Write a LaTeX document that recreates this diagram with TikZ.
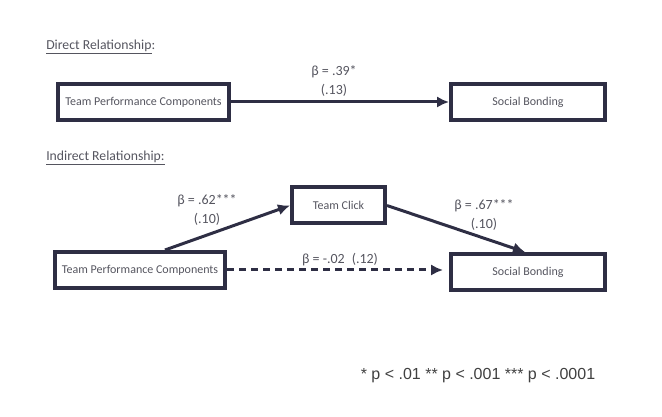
\documentclass[tikz,border=0pt]{standalone}
\usepackage{fontspec}
\setmainfont{Carlito}
\newfontfamily\notefont{Liberation Sans}
\usetikzlibrary{arrows.meta}

\definecolor{boxline}{HTML}{2E2E44}
\definecolor{labeltext}{HTML}{55555F}

\begin{document}
\begin{tikzpicture}%
                    [x=0.75pt,
                    y=-0.75pt,
                    box/.style={draw=boxline, line width=3pt, minimum height=27pt, inner sep=0pt, text=labeltext, font=\fontsize{9}{11}\selectfont},
                    link/.style={color=boxline, line width=2.25pt, -{Latex[length=9pt,width=8.5pt]}},
                    coef/.style={text=labeltext, align=center, inner sep=0pt, font=\fontsize{10.5}{14}\selectfont},
                    heading/.style={anchor=west, inner sep=0pt, text=labeltext, font=\fontsize{10.3}{12}\selectfont},
                    note/.style={inner sep=0pt, text=black!75, font=\notefont\fontsize{12}{14}\selectfont}]

                \useasboundingbox (0,0) rectangle (662,417);
                %% Direct relationship
                \node[heading] (direct) at (46,47) {\underline{Direct Relationship}:};
                \node[box, minimum width=128.25pt] (tpcA) at (143.5,102) {Team Performance Components};
                \node[box, minimum width=115.5pt] (sbA) at (528,102) {Social Bonding};
                \draw[link] (tpcA) -- (sbA);
                \node[coef] (betaA) at (334,81) {β = .39*\\(.13)};
                %%
                %% Indirect relationship
                %%
                \node[heading] (indirect) at (46,158) {\underline{Indirect Relationship:}};
                \node[box, minimum width=69.75pt] (click) at (338.5,205.5) {Team Click};
                \node[box, minimum width=127.5pt] (tpcB) at (140,270) {Team Performance Components};
                \node[box, minimum width=115.5pt] (sbB) at (528,272) {Social Bonding};
                \draw[link] ([xshift=18.75pt]tpcB.north) -- (click.west);
                \draw[link] (click.east) -- ([xshift=-2.25pt]sbB.north);
                \draw[link, dash pattern=on 5pt off 4pt, shorten >=4.5pt] (tpcB.east) -- (tpcB.east -| sbB.west);
                \node[coef] (betaB) at (207,210) {β = .62***\\(.10)};
                \node[coef] (betaC) at (484,215) {β = .67***\\(.10)};
                \node[coef] (betaD) at (340,260) {β = -.02\enspace(.12)};
                %%
                %% Significance levels
                %%
                \node[note] (pvals) at (478,376) {* p < .01 ** p < .001 *** p < .0001};
\end{tikzpicture}
\end{document}
